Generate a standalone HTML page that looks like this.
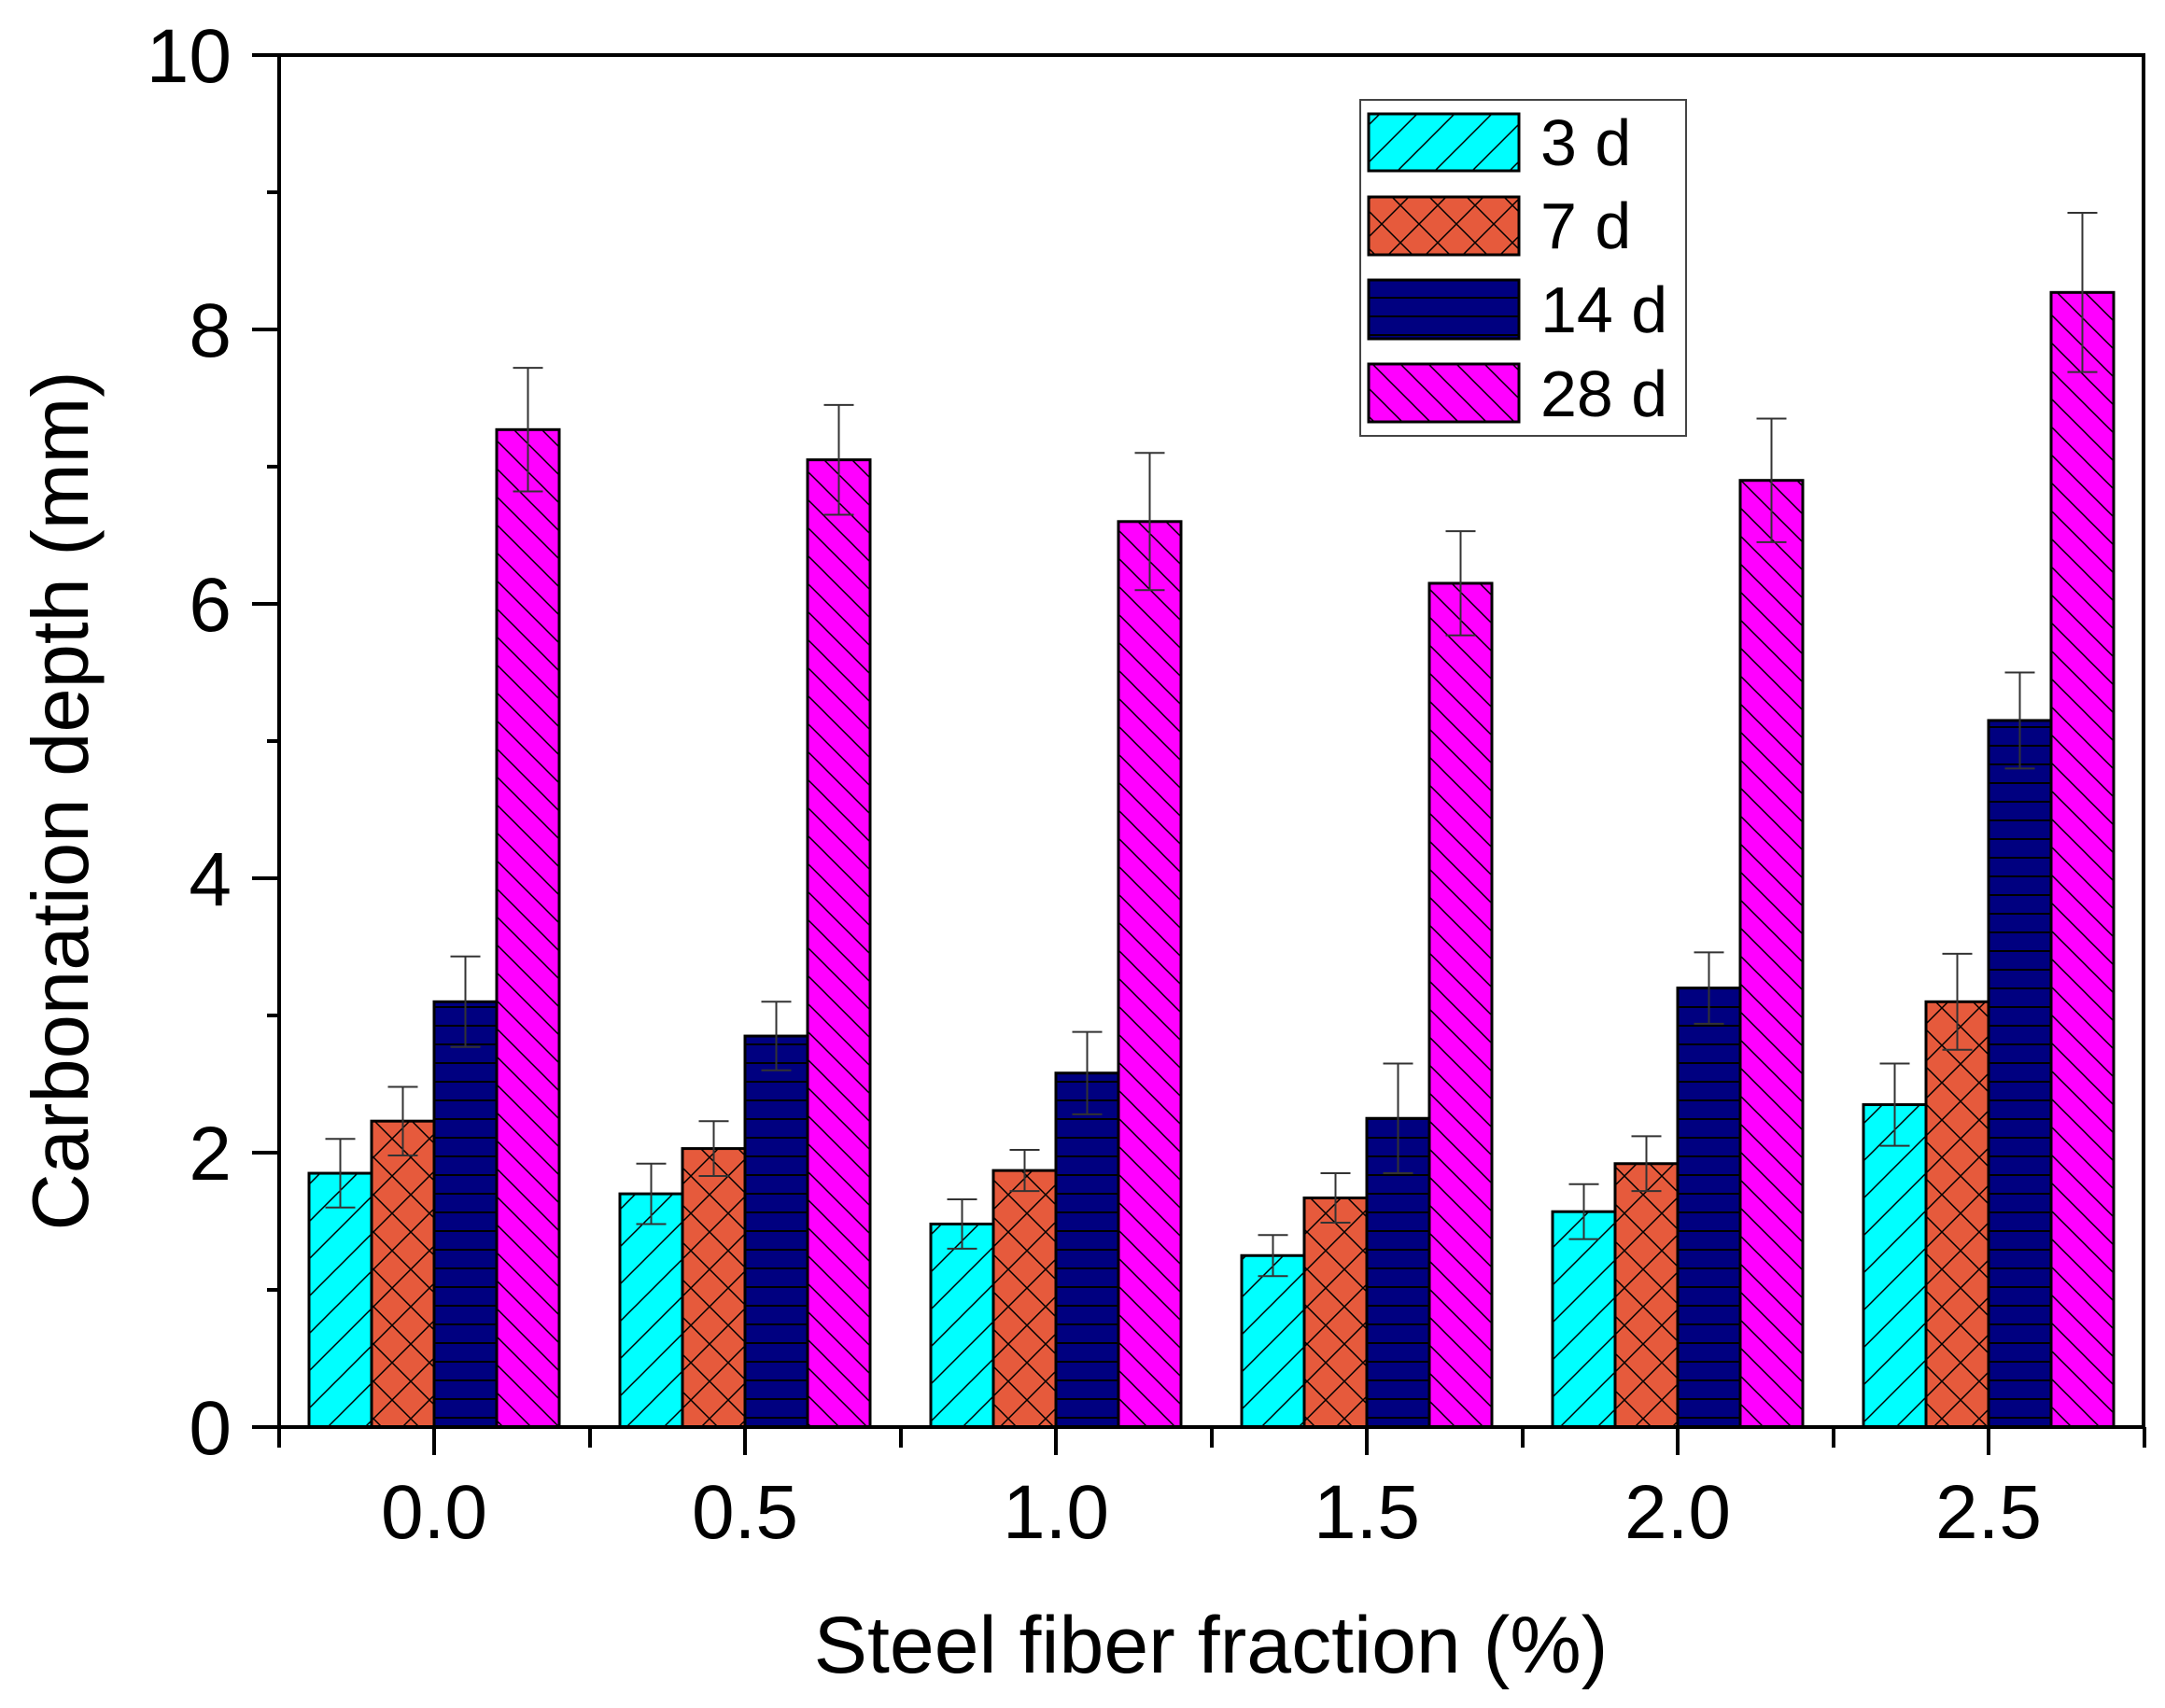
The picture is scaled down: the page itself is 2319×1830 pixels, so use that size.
<!DOCTYPE html>
<html><head><meta charset="utf-8"><style>html,body{margin:0;padding:0;background:#fff}svg{display:block}</style></head>
<body>
<svg width="2319" height="1830" viewBox="0 0 2319 1830" xmlns="http://www.w3.org/2000/svg" font-family="Liberation Sans, Arial, sans-serif">
<defs>
<pattern id="pc" patternUnits="userSpaceOnUse" width="40" height="40"><rect width="40" height="40" fill="#00ffff"/><path d="M-10,50 L50,-10 M-30,30 L30,-30 M10,70 L70,10" stroke="#000" stroke-width="1.5"/></pattern>
<pattern id="po" patternUnits="userSpaceOnUse" width="40" height="40"><rect width="40" height="40" fill="#e65a3c"/><path d="M-10,50 L50,-10 M-30,30 L30,-30 M10,70 L70,10 M-10,-10 L50,50 M-30,10 L30,70 M10,-30 L70,30" stroke="#000" stroke-width="1.5"/></pattern>
<pattern id="pn" patternUnits="userSpaceOnUse" width="40" height="20"><rect width="40" height="20" fill="#000080"/><path d="M0,19 L40,19" stroke="#000" stroke-width="2"/></pattern>
<pattern id="pm" patternUnits="userSpaceOnUse" width="30" height="30"><rect width="30" height="30" fill="#ff00ff"/><path d="M-5,-5 L35,35 M-20,10 L20,50 M10,-20 L50,20" stroke="#000" stroke-width="1.5"/></pattern>
</defs>
<g id="bars" stroke="#000" stroke-width="3"></g>
<g id="err" stroke="#333" stroke-width="2" fill="none"></g>
<rect x="299" y="59" width="1997" height="1470" fill="none" stroke="#000" stroke-width="4"/>
<g id="ticks" stroke="#000" stroke-width="4"></g>
<g font-size="82" fill="#000" id="labels"></g>
<text x="1297" y="1792" font-size="86" text-anchor="middle">Steel fiber fraction (%)</text>
<text transform="translate(94,858) rotate(-90)" font-size="85" text-anchor="middle">Carbonation depth (mm)</text>
<rect x="1457" y="107" width="349" height="360" fill="#fff" stroke="#444" stroke-width="2"/>
<rect x="1466" y="122" width="161" height="61" fill="url(#pc)" stroke="#000" stroke-width="3"/>
<rect x="1466" y="211" width="161" height="62" fill="url(#po)" stroke="#000" stroke-width="3"/>
<rect x="1466" y="300" width="161" height="63" fill="url(#pn)" stroke="#000" stroke-width="3"/>
<rect x="1466" y="390" width="161" height="62" fill="url(#pm)" stroke="#000" stroke-width="3"/>
<g font-size="70"><text x="1650" y="177">3 d</text><text x="1650" y="266">7 d</text><text x="1650" y="356">14 d</text><text x="1650" y="446">28 d</text></g>
<script>
var ns="http://www.w3.org/2000/svg";
function el(p,t,a){var e=document.createElementNS(ns,t);for(var k in a)e.setAttribute(k,a[k]);document.getElementById(p).appendChild(e);return e;}
var base=1529,sc=147,w=67;
var vals=[[1.85,2.23,3.1,7.27],[1.7,2.03,2.85,7.05],[1.48,1.87,2.58,6.6],[1.25,1.67,2.25,6.15],[1.57,1.92,3.2,6.9],[2.35,3.1,5.15,8.27]];
var errs=[[0.25,0.25,0.33,0.45],[0.22,0.2,0.25,0.4],[0.18,0.15,0.3,0.5],[0.15,0.18,0.4,0.38],[0.2,0.2,0.26,0.45],[0.3,0.35,0.35,0.58]];
var fills=["url(#pc)","url(#po)","url(#pn)","url(#pm)"];
for(var g=0;g<6;g++){var cx=465+g*333;for(var s=0;s<4;s++){var x=cx-2*w+s*w,v=vals[g][s],y=base-v*sc;
el("bars","rect",{x:x,y:y,width:w,height:v*sc,fill:fills[s]});
var m=x+w/2,e=errs[g][s]*sc;el("err","path",{d:"M"+m+","+(y-e)+"V"+(y+e)+"M"+(m-16)+","+(y-e)+"H"+(m+16)+"M"+(m-16)+","+(y+e)+"H"+(m+16)});}
el("ticks","line",{x1:cx,y1:base,x2:cx,y2:base+30});
var t=el("labels","text",{x:cx,y:1648,"text-anchor":"middle"});t.textContent=(g*0.5).toFixed(1);}
for(var g=0;g<7;g++){var x=299+g*333;el("ticks","line",{x1:x,y1:base,x2:x,y2:base+22});}
for(var i=0;i<=10;i++){var y=base-i*sc;el("ticks","line",{x1:299,y1:y,x2:i%2?286:270,y2:y});
if(i%2==0){var t=el("labels","text",{x:248,y:y+29,"text-anchor":"end"});t.textContent=i;}}
</script>
</svg>
</body></html>
